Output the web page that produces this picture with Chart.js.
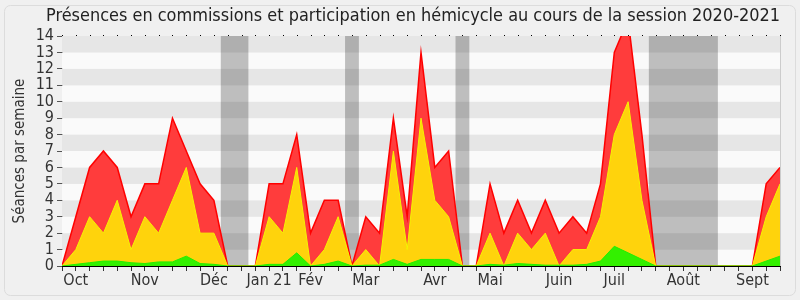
<!DOCTYPE html>
<html>
<head>
<meta charset="utf-8">
<script src="https://cdn.jsdelivr.net/npm/chart.js@4/dist/chart.umd.min.js"></script>
<style>
  html, body { margin: 0; padding: 0; background: #f0f0f0; }
  #wrap { width: 800px; height: 300px; position: relative; }
</style>
</head>
<body>
<div id="wrap"><canvas id="c" width="800" height="300"></canvas></div>
<script>
// ---- data (weekly, session 2020-2021) ----
const weeks = Array.from({length: 53}, (_, i) => i);
const monthLabels = {1: 'Oct', 6: 'Nov', 11: 'Déc', 15: 'Jan 21', 18: 'Fév', 22: 'Mar', 27: 'Avr', 31: 'Mai', 36: 'Juin', 40: 'Juil', 45: 'Août', 50: 'Sept'};
const totalSeances = [0,3,6,7,6,3,5,5,9,7,5,4,0,0,0,5,5,8,2,4,4,0,3,2,9,3,13,6,7,0,0,5,2,4,2,4,2,3,2,5,13,15,8,0,0,0,0,0,0,0,0,5,6];
const hemicycle =    [0,1,3,2,4,1,3,2,4,6,2,2,0,0,0,3,2,6,0,1,3,0,1,0,7,1,9,4,3,0,0,2,0,2,1,2,0,1,1,3,8,10,4,0,0,0,0,0,0,0,0,3,5];
const commissions =  [0,0.1,0.2,0.3,0.3,0.2,0.15,0.25,0.25,0.6,0.15,0.1,0,0,0,0.1,0.1,0.8,0,0.1,0.3,0,0.05,0.05,0.4,0.1,0.4,0.4,0.4,0,0,0.1,0.05,0.15,0.1,0.05,0.05,0.05,0.1,0.3,1.2,0.8,0.4,0,0,0,0,0,0,0,0,0.3,0.6];
const vacances = [[11.5, 13.5], [20.5, 21.5], [28.5, 29.5], [42.5, 47.5]];
const yTicks = [0,1,2,3,4,5,6,7,8,9,10,11,12,13,14];

const FONT = '"DejaVu Sans Condensed", "DejaVu Sans", sans-serif';

const bgPlugin = {
  id: 'bg',
  afterLayout(chart) {
    if (chart.titleBlock) { chart.titleBlock.left = 46; chart.titleBlock.right = 780; }
  },
  beforeDraw(chart) {
    const ctx = chart.ctx;
    ctx.save();
    ctx.fillStyle = '#f0f0f0';
    ctx.fillRect(0, 0, chart.width, chart.height);
    ctx.strokeStyle = '#dcdcdc';
    ctx.lineWidth = 1;
    ctx.beginPath();
    if (ctx.roundRect) ctx.roundRect(4.5, 5.5, 791, 290, 6); else ctx.rect(4.5, 5.5, 791, 290);
    ctx.stroke();
    ctx.restore();
  },
  beforeDatasetsDraw(chart) {
    const {ctx, chartArea: a, scales: {x, y}} = chart;
    ctx.save();
    for (let v = 0; v < yTicks[yTicks.length - 1]; v++) {
      const top = y.getPixelForValue(v + 1), bot = y.getPixelForValue(v);
      ctx.fillStyle = (v % 2 === 1) ? '#e6e6e6' : '#fafafa';
      ctx.fillRect(a.left, top, a.right - a.left, bot - top);
    }
    ctx.fillStyle = 'rgba(0,0,0,0.24)';
    vacances.forEach(([s, e]) => {
      const l = x.getPixelForValue(s), r = x.getPixelForValue(e);
      ctx.fillRect(l, a.top, r - l, a.bottom - a.top);
    });
    ctx.strokeStyle = '#cccccc';
    ctx.beginPath();
    ctx.moveTo(a.right + 0.5, a.top);
    ctx.lineTo(a.right + 0.5, a.bottom);
    ctx.stroke();
    ctx.restore();
  },
  afterDatasetsDraw(chart) {
    const {ctx, chartArea: a, scales: {x}} = chart;
    ctx.save();
    ctx.fillStyle = '#000';
    weeks.forEach(w => {
      const px = Math.round(x.getPixelForValue(w));
      ctx.fillRect(px, a.top - 1, 1, 1);
    });
    ctx.restore();
  }
};

const toXY = arr => arr.map((v, i) => ({x: weeks[i], y: v}));

new Chart(document.getElementById('c'), {
  type: 'line',
  data: {
    datasets: [
      { label: 'Commissions', data: toXY(commissions), borderColor: '#22ee00', backgroundColor: '#33f000', fill: 'origin', borderWidth: 1 },
      { label: 'Hémicycle', data: toXY(hemicycle), borderColor: '#f5f500', backgroundColor: '#ffd30c', fill: 'origin', borderWidth: 1 },
      { label: 'Total', data: toXY(totalSeances), borderColor: '#ff0000', backgroundColor: '#ff3c3c', fill: 'origin', borderWidth: 1.5 }
    ]
  },
  options: {
    responsive: false,
    animation: false,
    events: [],
    elements: { point: { radius: 0 }, line: { tension: 0 } },
    layout: { padding: { left: 0, right: 20, top: 0, bottom: 0 } },
    plugins: {
      legend: { display: false },
      tooltip: { enabled: false },
      title: {
        display: true,
        text: 'Présences en commissions et participation en hémicycle au cours de la session 2020-2021',
        color: '#222',
        font: { family: FONT, size: 18, weight: 'normal', lineHeight: 1.2 },
        padding: { top: 6, bottom: 8.4 }
      }
    },
    scales: {
      x: {
        type: 'linear',
        min: 0, max: 52,
        afterFit: s => { s.height = 34; },
        afterBuildTicks: s => { s.ticks = weeks.map(w => ({value: w})); },
        border: { display: true, color: '#000', width: 1 },
        grid: { drawOnChartArea: false, drawTicks: true, tickLength: 5, color: '#333' },
        ticks: {
          autoSkip: false, maxRotation: 0, padding: 0,
          color: '#333',
          font: { family: FONT, size: 16 },
          callback: v => monthLabels[v] || ''
        }
      },
      y: {
        min: 0, max: 14,
        afterFit: s => { s.width = 62; },
        afterBuildTicks: s => { s.ticks = yTicks.map(v => ({value: v})); },
        border: { display: true, color: '#000', width: 1 },
        grid: { drawOnChartArea: false, drawTicks: true, tickLength: 5, color: '#555' },
        ticks: { autoSkip: false, color: '#333', padding: 3, font: { family: FONT, size: 16 } },
        title: { display: true, text: 'Séances par semaine', color: '#333', font: { family: FONT, size: 15 }, padding: { top: 11, bottom: 0 } }
      }
    }
  },
  plugins: [bgPlugin]
});
</script>
</body>
</html>
